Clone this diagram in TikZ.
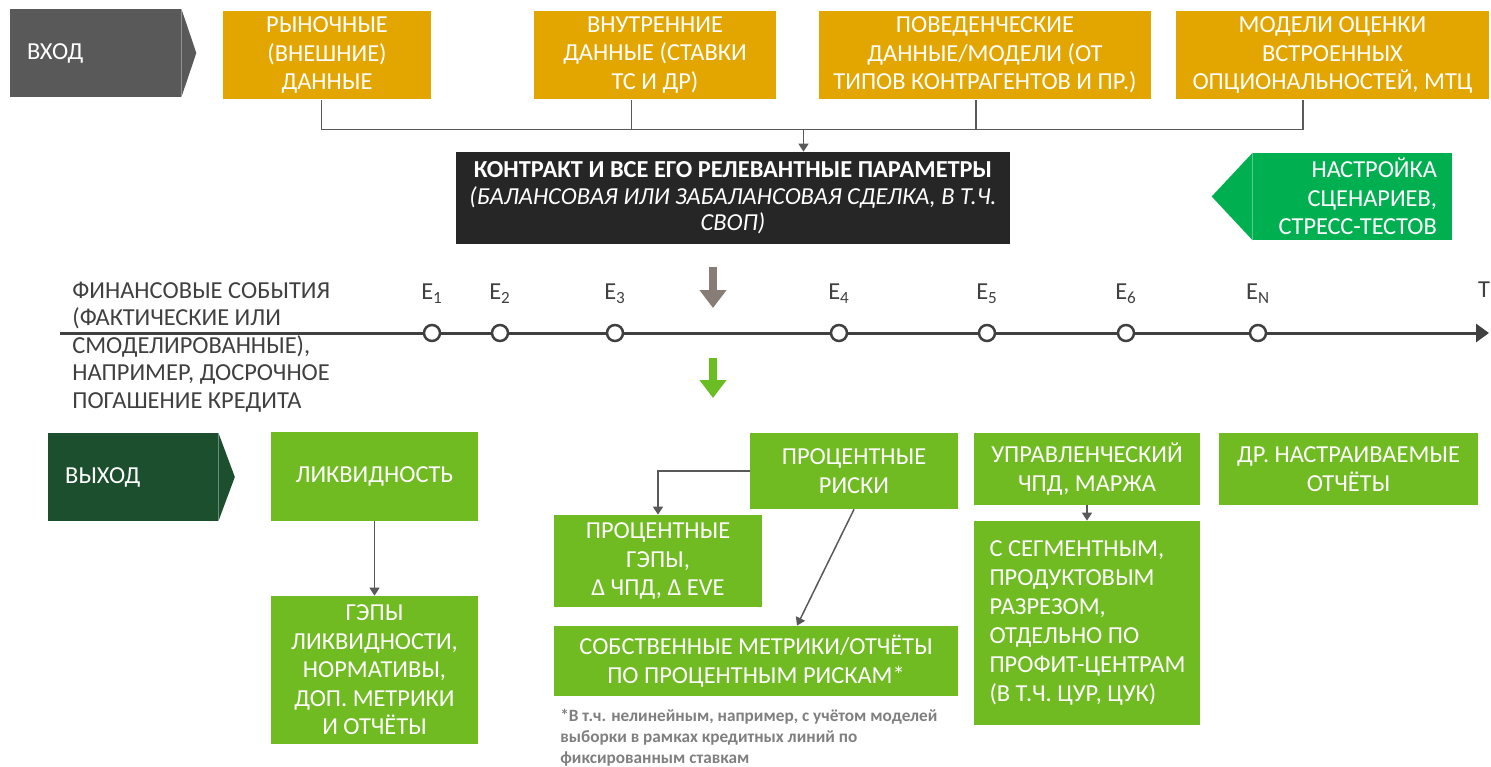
\documentclass[tikz,border=0pt]{standalone}
\usepackage{fontspec}
\setmainfont{Carlito}
\usetikzlibrary{arrows.meta}
\definecolor{goldbox}{HTML}{E3A600}
\definecolor{darkchev}{HTML}{595959}
\definecolor{contractbg}{HTML}{262626}
\definecolor{scenchev}{HTML}{00B050}
\definecolor{outgreen}{HTML}{70BB22}
\definecolor{outdark}{HTML}{1C4F2D}
\definecolor{linegray}{HTML}{595959}
\definecolor{textgray}{HTML}{404040}
\definecolor{notegray}{HTML}{7F7F7F}
\definecolor{arrowgray}{HTML}{877C76}
\definecolor{arrowgreen}{HTML}{6BBD24}
\newcommand{\boxfont}{\fontsize{13.9}{16.2}\selectfont}

\begin{document}
\begin{tikzpicture}[
    x=0.02cm, y=-0.02cm,
    box/.style={rectangle, fill=goldbox, text=white, align=center, font=\boxfont, inner sep=0pt},
    outbox/.style={box, fill=outgreen},
    chev/.style={rectangle, text=white, align=flush left, font=\boxfont, inner sep=0pt},
    conn/.style={draw=linegray, line width=0.03cm},
    arrow/.style={conn, -{Triangle[length=0.16cm, width=0.2cm]}},
    event/.style={circle, draw=textgray, fill=white, line width=0.05cm, minimum size=0.32cm, inner sep=0pt},
    evlabel/.style={text=textgray, font=\boxfont, inner sep=0pt},
    bigarrow/.style={line width=0.16cm, -{Triangle[length=0.36cm, width=0.52cm]}}
]
    \useasboundingbox (0,0) rectangle (1491,767);

    \node[chev, fill=darkchev, minimum width=3.42cm, minimum height=1.76cm, inner xsep=0.34cm, text width=2.74cm] (in) at (95.5,53) {ВХОД};
    \fill[darkchev] (in.north east) -- ([xshift=0.3cm]in.east) -- (in.south east) -- cycle;

    \node[box, minimum width=4.16cm, minimum height=1.78cm] (market) at (327,55) {РЫНОЧНЫЕ\\(ВНЕШНИЕ)\\ДАННЫЕ};
    \node[box, minimum width=4.86cm, minimum height=1.78cm] (internal) at (655,55) {ВНУТРЕННИЕ\\ДАННЫЕ (СТАВКИ\\ТС И ДР)};
    \node[box, minimum width=6.64cm, minimum height=1.78cm] (behav) at (985,55) {ПОВЕДЕНЧЕСКИЕ\\ДАННЫЕ/МОДЕЛИ (ОТ\\ТИПОВ КОНТРАГЕНТОВ И ПР.)};
    \node[box, minimum width=6.26cm, minimum height=1.78cm] (options) at (1332.5,55) {МОДЕЛИ ОЦЕНКИ\\ВСТРОЕННЫХ\\ОПЦИОНАЛЬНОСТЕЙ, МТЦ};

    \coordinate (bus) at (803.5,129.5);
    \draw[conn] ([xshift=-0.11cm]market.south) |- (bus) -| ([xshift=-0.59cm]options.south);
    \draw[conn] ([xshift=-0.47cm]internal.south) -- ([xshift=-0.47cm]internal.south |- bus);
    \draw[conn] ([xshift=-0.18cm]behav.south) -- ([xshift=-0.18cm]behav.south |- bus);

    \node[box, fill=contractbg, minimum width=11.08cm, minimum height=1.84cm, font={\fontsize{13.9}{15}\selectfont}] (contract) at (733,198)
        {\textbf{КОНТРАКТ И ВСЕ ЕГО РЕЛЕВАНТНЫЕ ПАРАМЕТРЫ}\\\textit{(БАЛАНСОВАЯ ИЛИ ЗАБАЛАНСОВАЯ СДЕЛКА, В Т.Ч.}\\\textit{СВОП)}};
    \draw[arrow] (bus) -- (bus |- contract.north);

    \node[chev, fill=scenchev, align=flush right, minimum width=3.98cm, minimum height=1.74cm, inner xsep=0.3cm, text width=3.38cm] (scen) at (1352.5,196.5) {НАСТРОЙКА\\СЦЕНАРИЕВ,\\СТРЕСС-ТЕСТОВ};
    \fill[scenchev] (scen.north west) -- ([xshift=-0.82cm]scen.west) -- (scen.south west) -- cycle;

    \coordinate (ga0) at (713,267);
    \coordinate (ga1) at (713,308);
    \draw[bigarrow, arrowgray] (ga0) -- (ga1);

    \coordinate (t0) at (60,333);
    \coordinate (t1) at (1489,333);
    \draw[draw=textgray, line width=0.06cm, -{Triangle[length=0.26cm, width=0.36cm]}] (t0) -- (t1);
    \node[evlabel, align=left, anchor=west, font={\fontsize{13.9}{15.6}\selectfont}] (fin) at (72,347)
        {ФИНАНСОВЫЕ СОБЫТИЯ\\(ФАКТИЧЕСКИЕ ИЛИ\\СМОДЕЛИРОВАННЫЕ),\\НАПРИМЕР, ДОСРОЧНОЕ\\ПОГАШЕНИЕ КРЕДИТА};
    \foreach \x/\n in {432/1, 500/2, 615/3, 839/4, 987/5, 1126/6, 1258/N} {
        \node[event] (e\n) at (\x,333) {};
        \node[evlabel] (l\n) at (\x,294) {E\textsubscript{\n}};
    }
    \node[evlabel] (tend) at (1484,290) {T};

    \coordinate (gr0) at (713,358);
    \coordinate (gr1) at (713,398);
    \draw[bigarrow, arrowgreen] (gr0) -- (gr1);

    \node[chev, fill=outdark, minimum width=3.4cm, minimum height=1.76cm, inner xsep=0.34cm, text width=2.72cm] (out) at (133,477) {ВЫХОД};
    \fill[outdark] (out.north east) -- ([xshift=0.33cm]out.east) -- (out.south east) -- cycle;

    \node[outbox, minimum width=4.14cm, minimum height=1.78cm] (liq) at (374.5,476.5) {ЛИКВИДНОСТЬ};
    \node[outbox, minimum width=4.14cm, minimum height=2.96cm, below of=liq, node distance=3.87cm] (liqgap) {ГЭПЫ\\ЛИКВИДНОСТИ,\\НОРМАТИВЫ,\\ДОП. МЕТРИКИ\\И ОТЧЁТЫ};
    \draw[arrow] (liq) -- (liqgap);

    \node[outbox, minimum width=4.16cm, minimum height=1.52cm] (ir) at (854,471) {ПРОЦЕНТНЫЕ\\РИСКИ};
    \node[outbox, minimum width=4.16cm, minimum height=1.84cm] (irgap) at (658,561) {ПРОЦЕНТНЫЕ\\ГЭПЫ,\\Δ ЧПД, Δ EVE};
    \node[outbox, minimum width=8.08cm, minimum height=1.4cm] (irown) at (756,661) {СОБСТВЕННЫЕ МЕТРИКИ/ОТЧЁТЫ\\ПО ПРОЦЕНТНЫМ РИСКАМ*};
    \draw[arrow] (ir.west) -| (irgap.north);
    \draw[arrow] (ir.south) -- ([xshift=0.82cm]irown.north);
    \node[text=notegray, font={\fontsize{9.8}{12}\selectfont\bfseries}, align=left, anchor=west, inner sep=0pt] (note) at (560,738)
        {*В т.ч. нелинейным, например, с учётом моделей\\выборки в рамках кредитных линий по\\фиксированным ставкам};

    \node[outbox, minimum width=4.54cm, minimum height=1.44cm] (mgmt) at (1087,469) {УПРАВЛЕНЧЕСКИЙ\\ЧПД, МАРЖА};
    \node[outbox, align=flush left, minimum width=4.54cm, minimum height=4.08cm, inner xsep=0.32cm, text width=3.9cm, below of=mgmt, node distance=3.08cm,
        font={\fontsize{13.9}{16.5}\selectfont}] (seg)
        {С СЕГМЕНТНЫМ,\\ПРОДУКТОВЫМ\\РАЗРЕЗОМ,\\ОТДЕЛЬНО ПО\\\mbox{ПРОФИТ-ЦЕНТРАМ}\\(В Т.Ч. ЦУР, ЦУК)};
    \draw[arrow] (mgmt) -- (seg);

    \node[outbox, minimum width=5.2cm, minimum height=1.44cm] (other) at (1348.5,469) {ДР. НАСТРАИВАЕМЫЕ\\ОТЧЁТЫ};
\end{tikzpicture}
\end{document}
